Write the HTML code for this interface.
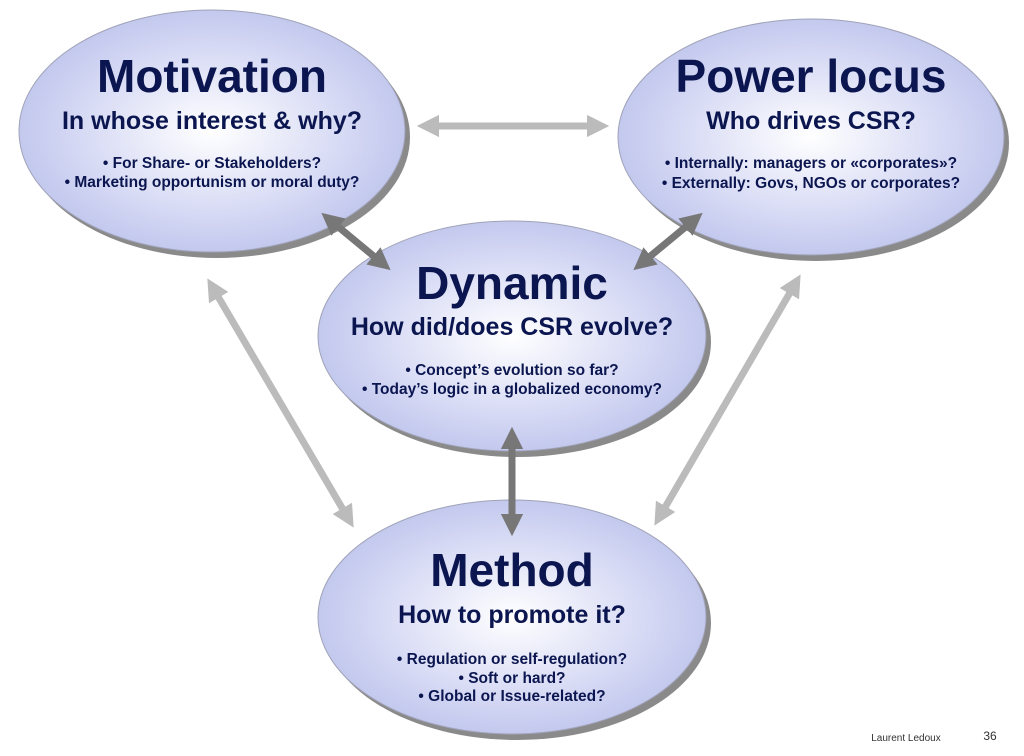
<!DOCTYPE html>
<html><head><meta charset="utf-8"><style>
html,body{margin:0;padding:0;background:#fff}
svg{display:block}
text{font-family:"Liberation Sans",Arial,sans-serif;font-weight:bold;fill:#0b1650;text-anchor:middle}
</style></head><body>
<svg width="1024" height="756" viewBox="0 0 1024 756" xmlns="http://www.w3.org/2000/svg">
<defs>
<radialGradient id="g" cx="50%" cy="50%" r="50%">
<stop offset="0" stop-color="#ffffff"/>
<stop offset="0.75" stop-color="#d2d6f3"/>
<stop offset="1" stop-color="#c3c8ee"/>
</radialGradient>
<marker id="ad" viewBox="0 0 10 10" refX="5" refY="5" markerWidth="3.2" markerHeight="3.2" orient="auto-start-reverse"><path d="M0,0 L10,5 L0,10 z" fill="#777"/></marker>
<marker id="al" viewBox="0 0 10 10" refX="5" refY="5" markerWidth="3.2" markerHeight="3.2" orient="auto-start-reverse"><path d="M0,0 L10,5 L0,10 z" fill="#bbb"/></marker>
</defs>
<g stroke-width="7" fill="none">
<line x1="428" y1="126" x2="598" y2="126" stroke="#bbb" marker-start="url(#al)" marker-end="url(#al)"/>
<line x1="213" y1="288" x2="348" y2="518" stroke="#bbb" marker-start="url(#al)" marker-end="url(#al)"/>
<line x1="795" y1="284" x2="660" y2="516" stroke="#bbb" marker-start="url(#al)" marker-end="url(#al)"/>
</g>
<g>
<ellipse cx="217" cy="137" rx="193" ry="121" fill="#8a8a8a"/>
<ellipse cx="212" cy="131" rx="193" ry="121" fill="url(#g)" stroke="#a0a3b8" stroke-width="1"/>
<ellipse cx="816" cy="143" rx="193" ry="118" fill="#8a8a8a"/>
<ellipse cx="811" cy="137" rx="193" ry="118" fill="url(#g)" stroke="#a0a3b8" stroke-width="1"/>
<ellipse cx="517" cy="342" rx="194" ry="115" fill="#8a8a8a"/>
<ellipse cx="512" cy="336" rx="194" ry="115" fill="url(#g)" stroke="#a0a3b8" stroke-width="1"/>
<ellipse cx="517" cy="623" rx="194" ry="117" fill="#8a8a8a"/>
<ellipse cx="512" cy="617" rx="194" ry="117" fill="url(#g)" stroke="#a0a3b8" stroke-width="1"/>
</g>
<g stroke-width="7" fill="none" stroke="#777">
<line x1="330" y1="220" x2="382" y2="263" marker-start="url(#ad)" marker-end="url(#ad)"/>
<line x1="694" y1="220" x2="642" y2="263" marker-start="url(#ad)" marker-end="url(#ad)"/>
<line x1="512" y1="438" x2="512" y2="525" marker-start="url(#ad)" marker-end="url(#ad)"/>
</g>
<text x="212" y="92" font-size="46">Motivation</text>
<text x="212" y="129" font-size="25">In whose interest &amp; why?</text>
<text x="212" y="168" font-size="15.5">• For Share- or Stakeholders?</text>
<text x="212" y="187" font-size="15.5">• Marketing opportunism or moral duty?</text>
<text x="811" y="92" font-size="46">Power locus</text>
<text x="811" y="129" font-size="25">Who drives CSR?</text>
<text x="811" y="168" font-size="15.5">• Internally: managers or «corporates»?</text>
<text x="811" y="188" font-size="15.5">• Externally: Govs, NGOs or corporates?</text>
<text x="512" y="299" font-size="46">Dynamic</text>
<text x="512" y="335" font-size="25">How did/does CSR evolve?</text>
<text x="512" y="375" font-size="15.5">• Concept’s evolution so far?</text>
<text x="512" y="394" font-size="15.5">• Today’s logic in a globalized economy?</text>
<text x="512" y="586" font-size="46">Method</text>
<text x="512" y="623" font-size="25">How to promote it?</text>
<text x="512" y="664" font-size="15.5">• Regulation or self-regulation?</text>
<text x="512" y="683" font-size="15.5">• Soft or hard?</text>
<text x="512" y="701" font-size="15.5">• Global or Issue-related?</text>
<text x="906" y="741" font-size="10" style="font-weight:normal;fill:#333">Laurent Ledoux</text>
<text x="990" y="740" font-size="12" style="font-weight:normal;fill:#333">36</text>
</svg>
</body></html>
